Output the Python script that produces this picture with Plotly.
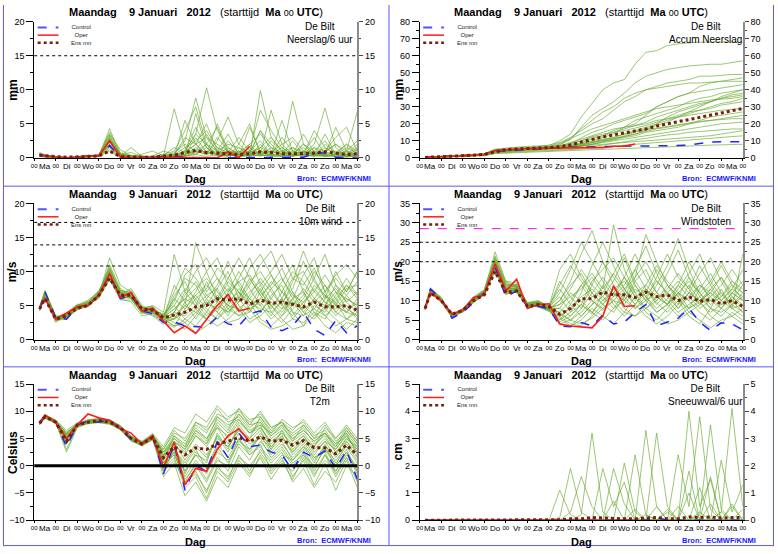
import plotly.graph_objects as go

# ---------------- time axis ----------------
HOURS = [6, 12, 24, 36, 48, 60, 72, 84, 96, 108, 120, 132, 144, 156, 168, 180,
         192, 204, 216, 228, 240, 252, 264, 276, 288, 300, 312, 324, 336, 348, 360]
OPER_HOURS = [6, 12, 24, 36, 48, 60, 72, 84, 96, 108, 120, 132, 144, 156, 168, 180,
              192, 204, 216, 228, 240]
MIDNIGHT_HOURS = [0, 24, 48, 72, 96, 120, 144, 168, 192, 216, 240, 264, 288, 312, 336, 360]
MIDNIGHT_LABELS = ["00", "00", "00", "00", "00", "00", "00", "00", "00", "00", "00", "00",
                   "00", "00", "00", "00"]
NOON_HOURS = [12, 36, 60, 84, 108, 132, 156, 180, 204, 228, 252, 276, 300, 324, 348]
DAY_NAMES = ["Ma", "Di", "Wo", "Do", "Vr", "Za", "Zo", "Ma", "Di", "Wo", "Do", "Vr", "Za", "Zo", "Ma"]

# ---------------- precipitation per 6 h (mm) ----------------
PRECIP_CONTROL = [0.5,0.3,0.1,0.0,0.1,0.2,0.3,1.8,0.1,0.0,0.1,0.2,0.1,0.2,0.1,0.0,0.0,0.0,0.0,0.0,
                  0.0,0.0,0.0,0.0,0.0,0.1,0.7,0.7,0.1,0.0,0.0]
PRECIP_OPER = [0.5,0.3,0.1,0.0,0.1,0.3,0.3,2.5,0.2,0.0,0.1,0.1,0.1,0.1,0.0,0.0,0.0,0.0,0.9,0.0,1.7]
PRECIP_MEAN = [0.4,0.3,0.2,0.1,0.1,0.2,0.3,1.0,0.2,0.1,0.1,0.1,0.2,0.4,0.8,1.1,0.8,0.7,0.6,0.5,
               0.6,0.9,0.8,0.6,0.6,0.6,0.7,0.9,0.7,0.5,0.6]
PRECIP_MEMBERS = [
    [0.8,0.4,0.2,0.0,0.2,0.4,0.3,4.3,0.5,0.2,0.0,0.1,0.3,7.2,1.5,0.5,2.0,0.3,0.0,1.0,0.2,9.9,3.0,1.0,0.5,2.0,0.5,1.0,0.2,0.5,1.2],
    [0.3,0.2,0.1,0.0,0.1,0.2,0.4,3.5,1.2,0.3,0.1,0.0,0.2,0.5,2.5,8.8,3.0,1.0,0.5,0.2,4.5,1.0,0.3,0.2,1.5,0.5,0.2,2.0,0.8,0.3,0.5],
    [0.5,0.3,0.2,0.1,0.0,0.3,0.5,2.5,0.3,1.5,0.2,0.1,0.0,0.2,1.0,3.5,10.3,4.0,1.5,0.5,1.0,2.5,0.5,0.3,0.2,0.8,3.0,0.5,0.2,0.1,0.3],
    [0.2,0.1,0.0,0.0,0.1,0.2,0.3,2.0,0.2,0.1,0.5,1.0,0.3,0.2,5.5,2.0,0.5,1.0,3.5,0.5,0.2,0.5,7.0,2.0,0.5,0.3,1.5,0.2,0.5,1.0,0.4],
    [0.6,0.4,0.1,0.0,0.2,0.3,0.2,3.0,0.4,0.2,0.0,0.3,1.0,0.5,0.3,6.5,1.5,0.5,0.2,2.0,5.0,0.5,1.0,0.5,8.3,2.0,0.5,0.3,0.2,0.5,0.3],
    [0.4,0.2,0.1,0.0,0.1,0.3,0.3,1.5,0.1,0.0,0.1,0.0,0.1,0.3,0.8,2.0,0.5,5.0,1.0,0.3,0.5,1.0,0.5,5.5,1.0,0.5,2.0,7.3,1.5,0.3,0.8],
    [0.3,0.3,0.2,0.1,0.0,0.2,0.4,2.8,0.6,0.3,0.2,0.0,0.0,0.1,0.5,1.0,3.5,0.8,0.3,1.5,0.5,4.0,2.0,0.5,0.3,1.0,0.5,0.5,4.5,1.0,6.8],
    [0.5,0.2,0.0,0.0,0.1,0.2,0.2,1.8,0.2,0.1,0.0,0.2,0.5,1.0,4.0,7.5,2.0,0.3,0.5,0.2,0.3,2.0,0.5,0.2,0.5,3.5,0.8,0.3,0.5,0.2,0.5],
    [0.4,0.3,0.1,0.0,0.0,0.2,0.3,2.2,0.3,0.4,0.1,0.0,0.3,0.2,0.5,1.5,0.5,2.5,6.0,2.0,0.5,0.3,0.5,1.5,0.5,0.3,0.5,1.0,3.0,4.5,1.0],
    [0.7,0.4,0.2,0.0,0.1,0.3,0.4,3.8,0.8,0.2,0.1,0.1,0.0,0.0,0.2,0.5,1.5,0.5,0.3,0.5,1.0,7.0,4.0,1.5,0.5,1.0,0.3,0.2,0.5,2.0,0.5],
    [0.3,0.2,0.1,0.0,0.1,0.2,0.3,1.2,0.1,0.0,0.0,0.0,0.1,0.3,1.0,4.5,1.5,0.5,1.0,0.5,2.0,0.3,0.5,3.0,1.0,0.5,4.0,1.5,0.5,0.2,0.3],
    [0.5,0.3,0.1,0.0,0.2,0.3,0.2,2.6,0.5,0.2,0.3,0.2,0.5,0.3,0.2,1.0,2.0,4.5,0.5,0.2,0.5,0.3,1.5,0.5,0.3,0.5,0.3,0.5,1.0,0.5,2.0],
    [0.2,0.1,0.0,0.0,0.0,0.1,0.2,1.0,0.0,0.0,0.0,0.0,0.0,0.1,0.3,0.5,0.2,0.5,1.5,0.5,0.3,0.5,0.2,0.3,0.5,0.2,0.3,0.5,0.2,0.3,0.2],
    [0.6,0.3,0.2,0.0,0.1,0.2,0.3,3.2,0.4,0.3,0.1,0.0,0.2,0.5,3.0,2.0,5.0,1.0,0.5,0.3,0.8,4.0,1.0,0.5,2.5,0.5,0.3,3.5,0.5,1.0,0.5],
    [0.4,0.2,0.1,0.0,0.1,0.3,0.4,2.0,0.2,0.1,0.0,0.1,0.2,0.3,0.5,3.0,0.8,0.3,2.5,0.8,0.3,1.0,0.3,0.5,0.8,1.5,0.5,0.3,0.5,0.3,0.5],
    [0.4,0.2,0.1,0.0,0.1,0.2,0.3,2.4,0.3,0.2,0.1,0.0,0.2,0.8,2.0,1.0,0.5,3.0,1.0,0.5,1.5,0.5,2.5,1.0,0.3,0.5,1.0,2.5,0.5,1.5,0.8],
    [0.5,0.3,0.1,0.0,0.1,0.3,0.3,1.6,0.2,0.1,0.0,0.1,0.3,0.5,1.5,2.5,4.0,1.5,0.5,1.0,0.5,1.5,0.8,2.0,3.0,1.0,0.5,0.8,2.0,0.5,1.5],
    [0.3,0.2,0.1,0.0,0.0,0.2,0.2,2.9,0.4,0.2,0.1,0.0,0.1,0.2,0.5,1.0,0.5,1.5,0.8,3.0,1.0,0.5,0.3,1.0,0.5,2.0,1.0,0.5,0.3,0.5,0.3],
    [0.6,0.3,0.2,0.0,0.1,0.3,0.4,3.4,0.6,0.3,0.2,0.1,0.4,1.5,0.8,2.0,3.0,2.0,1.0,0.8,2.0,3.5,1.5,0.8,1.0,0.5,1.5,1.0,2.0,1.0,2.5],
    [0.3,0.2,0.0,0.0,0.1,0.2,0.3,1.9,0.1,0.0,0.0,0.0,0.1,0.2,0.3,0.8,1.0,0.5,0.3,0.5,0.8,0.5,1.0,0.5,0.3,0.5,0.8,0.3,0.5,0.8,0.5],
    [0.4,0.3,0.1,0.0,0.1,0.2,0.3,2.7,0.5,0.8,0.2,0.1,0.2,0.4,1.0,3.5,2.0,1.0,2.0,1.5,0.8,1.5,3.0,1.0,1.5,0.8,0.5,1.5,0.8,2.0,1.0],
]

# ---------------- accumulated precipitation (mm) ----------------
ACCUM_CONTROL = [0.3,0.5,0.8,1.0,1.2,1.6,2.0,3.8,4.2,4.8,5.0,5.3,5.8,6.0,6.2,6.4,6.6,6.7,6.8,6.9,
                 7.0,7.0,7.0,7.0,7.1,7.4,8.5,9.3,9.5,9.5,9.5]
ACCUM_OPER = [0.3,0.5,0.8,1.0,1.2,1.6,2.0,4.3,4.8,5.2,5.4,5.6,5.8,6.0,6.0,6.0,6.0,6.0,6.8,6.8,8.2]
ACCUM_MEAN = [0.3,0.5,0.8,1.0,1.3,1.6,2.1,3.5,4.9,5.2,5.4,5.7,6.0,6.6,7.6,9.3,11.0,12.3,13.5,14.7,
              15.6,17.0,18.7,20.2,21.3,22.5,23.8,25.3,26.6,27.8,29.0]
ACCUM_MEMBERS = [
    [0.4,0.6,0.9,1.2,1.5,1.9,2.3,4.8,5.5,5.9,6.2,6.6,7.2,10.0,14.0,24.0,32.0,40.0,44.0,46.0,55.0,62.0,63.0,66.0,67.0,67.5,68.0,68.0,68.0,68.0,68.0],
    [0.3,0.5,0.8,1.1,1.4,1.8,2.2,4.5,5.0,5.4,5.8,6.0,6.5,8.0,11.0,18.0,25.0,29.0,33.0,38.0,44.0,48.0,50.0,52.0,53.0,54.0,54.5,55.0,55.0,56.0,57.0],
    [0.3,0.6,0.9,1.2,1.6,2.0,2.5,5.2,5.8,6.3,6.8,7.0,7.5,9.0,12.0,16.0,20.0,23.0,28.0,33.0,36.0,40.0,42.0,44.0,45.0,46.0,48.0,48.0,48.5,49.0,49.0],
    [0.2,0.4,0.7,0.9,1.1,1.5,1.9,3.5,4.2,4.6,5.0,5.3,5.6,6.0,7.0,9.0,11.0,13.0,16.0,18.0,20.0,25.0,30.0,33.0,36.0,38.0,42.0,44.0,45.0,46.0,47.0],
    [0.4,0.6,0.9,1.1,1.4,1.7,2.1,4.0,4.6,5.3,5.6,5.8,6.2,6.8,8.5,12.0,15.0,17.0,20.0,22.0,24.0,26.0,30.0,33.0,36.0,38.0,39.0,40.0,41.0,42.0,43.0],
    [0.3,0.5,0.7,1.0,1.3,1.6,2.0,3.8,4.3,4.8,5.1,5.4,5.7,6.0,6.5,8.0,10.0,12.0,14.0,18.0,22.0,24.0,26.0,28.0,30.0,33.0,35.0,36.0,38.0,39.0,40.0],
    [0.3,0.5,0.8,1.0,1.2,1.6,2.0,4.0,4.5,5.0,5.4,5.7,6.0,6.5,8.0,10.0,12.0,13.0,15.0,17.0,19.0,21.0,24.0,26.0,28.0,30.0,32.0,33.0,35.0,36.0,37.0],
    [0.2,0.4,0.6,0.8,1.1,1.4,1.8,3.5,4.0,4.4,4.8,5.0,5.2,5.5,6.0,7.5,9.0,11.0,12.0,14.0,16.0,18.0,20.0,22.0,24.0,26.0,28.0,29.0,31.0,32.0,33.0],
    [0.3,0.5,0.8,1.0,1.3,1.7,2.1,4.2,4.7,5.1,5.5,5.8,6.0,7.0,9.0,11.0,13.0,15.0,17.0,18.0,19.0,20.0,22.0,23.0,24.0,25.0,26.0,27.0,28.0,28.5,29.0],
    [0.2,0.4,0.6,0.8,1.0,1.3,1.7,3.2,3.6,4.0,4.4,4.6,4.8,5.2,6.0,7.0,8.0,9.5,10.5,12.0,13.0,15.0,16.0,17.0,18.0,20.0,21.0,22.0,23.0,24.0,25.0],
    [0.3,0.5,0.7,0.9,1.2,1.5,1.9,3.9,4.4,4.8,5.2,5.5,5.7,6.0,6.5,7.0,8.0,9.0,10.0,11.0,12.0,13.0,14.0,15.0,16.0,17.0,18.0,19.0,20.0,20.5,21.0],
    [0.2,0.4,0.6,0.8,1.0,1.3,1.6,3.0,3.5,3.9,4.2,4.4,4.6,4.8,5.2,5.8,6.5,7.5,8.5,9.5,10.5,11.5,12.5,13.5,14.0,15.0,15.5,16.0,16.5,17.0,17.0],
    [0.2,0.3,0.5,0.7,0.9,1.2,1.5,2.8,3.2,3.5,3.8,4.0,4.2,4.4,4.8,5.2,5.8,6.5,7.0,7.5,8.0,8.5,9.0,9.5,10.0,10.5,11.0,11.5,12.0,12.5,13.0],
    [0.1,0.3,0.5,0.6,0.8,1.0,1.3,2.5,2.8,3.1,3.4,3.6,3.8,4.0,4.2,4.5,4.8,5.0,5.2,5.5,5.8,6.0,6.2,6.5,6.8,7.0,7.2,7.5,7.8,8.0,8.0],
    [0.3,0.5,0.8,1.1,1.4,1.8,2.2,4.5,5.0,5.5,5.8,6.1,6.4,6.8,7.5,8.5,9.5,10.5,11.5,12.5,14.0,16.0,20.0,24.0,27.0,29.0,31.0,33.0,35.0,37.0,38.0],
    [0.3,0.5,0.8,1.0,1.3,1.7,2.1,4.3,4.8,5.2,5.6,5.9,6.3,7.5,11.0,17.0,22.0,27.0,30.0,35.0,38.0,40.0,41.0,42.0,43.0,44.0,44.0,44.5,45.0,45.0,45.0],
    [0.3,0.5,0.8,1.0,1.3,1.6,2.0,4.0,4.6,5.0,5.3,5.6,6.0,7.0,8.5,10.0,12.5,14.0,15.0,16.0,17.5,19.0,21.0,23.0,25.0,27.0,28.0,30.0,32.0,33.0,35.0],
    [0.2,0.4,0.7,0.9,1.2,1.5,1.9,3.8,4.3,4.7,5.0,5.3,5.6,6.0,6.8,7.5,9.0,10.0,11.0,12.5,14.0,15.5,17.0,18.0,19.0,20.0,22.0,24.0,25.0,26.0,27.0],
    [0.3,0.5,0.8,1.1,1.4,1.7,2.1,4.4,4.9,5.3,5.6,5.9,6.2,6.6,7.2,8.0,9.0,10.5,12.0,14.0,15.5,16.5,17.5,18.5,19.5,20.5,21.5,22.0,22.5,23.0,23.0],
    [0.2,0.4,0.6,0.9,1.1,1.4,1.8,3.6,4.1,4.5,4.9,5.1,5.4,5.7,6.2,7.0,8.0,9.5,11.0,13.0,15.0,17.0,19.0,21.0,24.0,27.0,30.0,33.0,36.0,38.0,40.0],
    [0.3,0.5,0.7,1.0,1.3,1.6,2.0,4.1,4.6,5.0,5.3,5.6,5.9,6.2,6.6,7.0,7.5,8.0,8.5,9.0,9.5,10.0,10.5,11.0,11.5,12.0,12.5,13.0,14.0,15.0,16.0],
    [0.3,0.6,0.9,1.2,1.5,1.9,2.3,4.6,5.2,5.6,6.0,6.3,6.8,8.5,11.5,14.0,17.0,19.0,21.0,23.0,25.0,27.0,29.0,30.0,31.0,32.0,33.0,34.0,34.5,35.0,36.0],
]

# ---------------- 10 m wind (m/s) ----------------
WIND_CONTROL = [4.5,7.0,3.2,3.0,4.8,5.0,6.5,9.5,6.0,6.5,4.2,3.8,2.5,2.6,2.0,1.9,1.8,3.3,2.3,2.0,
                3.8,4.2,1.8,1.3,2.0,4.0,1.5,0.6,2.8,1.0,2.0]
WIND_OPER = [4.5,6.1,3.0,3.9,4.8,5.0,6.5,9.7,6.2,6.9,4.2,4.6,2.7,1.0,2.0,0.9,3.0,5.0,6.6,4.2,4.6]
WIND_MEAN = [4.5,6.0,3.0,3.5,4.6,5.0,6.5,9.0,6.5,6.5,4.5,4.3,3.2,3.6,4.0,4.8,5.0,6.0,5.8,6.0,
             5.2,5.8,5.3,5.5,5.2,4.8,5.5,4.8,4.8,5.0,4.3]
WIND_MEMBERS = [
    [4.3,6.5,2.8,3.5,5.0,5.5,7.0,10.5,7.0,6.0,4.0,4.5,3.5,6.0,9.0,8.0,5.0,7.5,10.0,6.0,4.0,7.0,9.5,6.0,3.0,5.0,8.0,6.5,4.0,6.0,5.0],
    [4.8,7.2,3.5,3.2,4.5,5.2,6.0,9.0,6.5,7.5,5.0,4.0,3.0,2.0,4.5,7.0,10.0,12.0,8.0,5.0,3.0,4.0,6.0,8.5,11.0,7.0,4.0,3.0,5.5,8.0,6.0],
    [4.5,6.0,2.5,3.8,5.2,4.8,6.8,11.0,7.5,6.5,4.5,5.0,4.0,12.5,7.0,5.0,3.0,4.5,6.0,9.0,12.0,8.0,5.0,3.5,6.0,9.5,12.0,7.0,4.0,3.0,2.5],
    [4.2,6.8,3.0,3.2,4.8,5.5,7.2,9.8,6.0,5.5,3.5,3.8,2.5,3.0,5.0,14.2,10.0,6.0,4.0,5.5,8.0,11.0,13.0,9.0,6.0,4.0,3.0,5.0,7.0,4.5,3.5],
    [4.6,7.0,3.3,3.5,4.4,5.0,6.5,12.0,8.0,7.0,4.8,4.2,3.8,5.0,3.0,2.0,4.0,6.5,5.0,3.5,5.0,7.5,4.0,2.5,4.5,6.0,9.0,12.5,8.0,5.5,4.0],
    [4.4,6.2,2.8,3.0,4.6,5.2,6.2,9.2,6.8,6.2,4.0,3.5,2.2,4.0,6.5,8.5,6.0,4.0,7.0,10.0,7.5,5.0,3.0,4.5,7.0,5.0,3.5,6.0,10.0,7.0,10.0],
    [4.7,6.6,3.1,3.7,5.0,5.8,7.0,10.0,7.2,6.8,4.5,4.8,3.3,2.5,1.5,3.5,6.0,8.0,11.5,8.0,5.5,3.0,2.0,3.5,5.0,7.5,5.5,3.5,2.0,3.0,4.5],
    [4.5,6.4,2.9,3.4,4.7,5.0,6.8,10.8,7.0,6.3,4.2,4.4,3.0,6.5,8.5,5.5,3.5,5.0,4.0,6.0,9.0,6.5,8.0,10.5,7.0,4.0,6.0,8.0,5.0,7.5,8.0],
    [4.3,6.9,3.4,3.3,4.9,5.4,6.6,9.5,6.3,7.0,4.6,4.0,2.8,3.5,2.5,1.0,2.0,3.5,5.5,7.0,4.5,2.5,1.5,2.0,3.0,2.5,4.0,2.0,1.0,2.5,2.0],
    [4.6,6.3,3.2,3.6,4.5,5.1,6.4,9.6,6.6,6.0,3.8,4.6,3.6,5.5,9.5,11.0,7.0,9.0,6.0,4.0,6.5,9.0,7.0,5.0,8.5,13.0,9.0,6.0,7.5,5.5,7.0],
    [4.5,6.7,3.0,3.1,4.4,4.9,6.3,8.8,5.8,5.8,4.0,3.6,2.6,1.8,3.0,4.5,3.0,2.0,3.0,4.5,2.5,3.5,5.0,3.0,1.5,2.0,3.5,4.5,3.0,1.5,3.0],
    [4.4,6.5,3.3,3.9,5.1,5.6,7.1,10.2,6.9,7.2,4.7,4.9,3.2,4.5,6.0,5.0,8.5,5.5,3.5,6.5,10.5,12.5,9.5,7.0,5.0,6.5,10.0,8.0,6.0,4.0,5.5],
    [4.6,7.1,2.7,3.3,4.8,5.3,6.6,9.3,6.4,6.6,4.4,4.1,3.4,3.0,5.5,6.5,4.5,3.0,5.0,7.5,6.0,4.0,6.5,8.0,4.0,2.0,5.0,4.0,6.5,9.0,6.5],
    [4.5,6.0,3.1,3.6,4.6,5.0,6.9,9.9,7.3,6.4,4.3,4.7,3.1,8.0,5.5,3.0,5.5,4.0,2.5,3.0,4.5,5.5,3.5,6.0,9.0,10.0,7.0,5.5,3.5,5.0,3.0],
    [4.4,6.6,3.2,3.4,4.7,5.2,6.5,9.4,6.1,6.7,4.1,4.3,2.9,4.0,7.0,10.0,12.0,9.0,7.0,8.5,6.0,8.0,10.0,12.5,9.0,8.0,10.5,7.0,9.0,7.0,10.0],
    [4.5,6.8,3.1,3.5,4.9,5.3,6.7,9.7,6.5,6.4,4.3,4.4,3.3,4.5,6.0,7.5,9.0,7.0,5.0,4.5,6.0,5.0,7.5,9.0,6.5,5.5,7.0,9.5,7.0,6.0,5.0],
    [4.4,6.4,3.0,3.3,4.6,5.1,6.4,9.1,6.2,6.1,4.1,4.2,3.0,2.0,2.5,4.0,5.5,4.5,6.5,8.5,9.5,7.0,5.0,6.0,4.0,3.5,6.0,5.0,8.0,6.5,8.5],
    [4.6,7.0,3.3,3.7,4.8,5.4,6.9,10.4,7.1,6.9,4.6,4.5,3.5,7.0,10.5,9.0,6.5,5.5,8.5,7.0,5.0,6.0,8.5,7.0,10.0,8.5,6.0,4.5,6.0,8.0,6.5],
    [4.3,6.3,2.9,3.2,4.5,4.9,6.3,9.0,6.0,6.3,4.0,3.9,2.7,3.0,4.0,6.0,4.0,3.0,4.5,6.0,8.5,10.0,7.5,5.0,3.5,5.5,7.5,5.5,4.5,6.5,4.5],
    [4.7,6.9,3.2,3.6,5.0,5.3,6.7,10.1,6.7,6.6,4.4,4.6,3.4,5.0,7.5,6.0,7.5,10.5,9.0,7.0,5.5,4.5,4.0,5.5,7.5,11.5,8.5,6.5,5.0,4.0,6.0],
    [4.5,6.6,3.1,3.5,4.7,5.2,6.6,9.6,6.4,6.5,4.3,4.3,3.1,4.0,3.5,5.0,6.5,7.5,4.5,3.5,4.0,6.0,5.5,4.0,6.0,7.0,4.5,3.5,5.0,4.0,3.5],
    [4.4,6.5,3.0,3.4,4.6,5.0,6.5,9.4,6.3,6.2,4.2,4.1,2.9,3.5,5.0,4.0,3.0,5.5,7.5,5.5,7.0,8.5,6.0,4.5,5.5,4.5,5.5,7.0,9.5,11.0,9.0],
    [4.6,6.7,3.2,3.6,4.8,5.2,6.8,10.0,6.8,6.7,4.5,4.5,3.3,6.0,4.5,6.5,8.0,6.0,9.0,12.0,9.0,6.5,4.5,7.0,5.5,3.5,4.5,6.5,5.5,3.0,4.0],
]

# ---------------- wind gusts (m/s) ----------------
GUST_CONTROL = [8.0,13.0,10.5,5.5,7.0,9.5,12.0,18.5,11.0,12.5,8.5,8.5,8.0,3.5,3.3,4.4,3.5,6.3,4.0,4.5,
                7.0,9.0,3.5,4.5,5.5,8.0,4.5,2.3,4.3,4.0,2.5]
GUST_OPER = [8.0,12.0,10.0,6.5,7.5,10.8,11.5,19.5,12.5,15.5,8.0,9.0,9.2,4.0,3.5,3.2,3.0,6.0,13.8,8.5,8.7]
GUST_MEAN = [8.0,12.0,10.0,6.5,7.5,10.0,11.5,17.5,12.0,12.5,8.5,9.0,8.5,6.5,8.0,10.5,10.5,12.2,11.5,11.5,
             10.8,12.2,11.0,11.5,10.0,11.0,9.8,10.3,9.2,10.0,8.5]
GUST_MEMBERS = [
    [7.8,12.5,9.5,6.0,7.8,10.5,12.5,20.0,13.0,14.0,9.0,9.5,8.0,10.0,15.0,22.0,28.0,20.0,14.0,10.0,15.0,18.0,12.0,9.0,14.0,20.0,15.0,10.0,8.0,12.0,10.0],
    [8.2,13.2,10.8,5.8,7.2,9.8,11.8,18.5,12.2,13.0,8.2,8.8,7.5,5.0,9.0,14.0,17.0,13.0,29.5,18.0,12.0,8.0,10.0,14.0,11.0,7.0,9.0,13.0,16.0,11.0,9.0],
    [7.5,11.8,10.2,6.2,8.0,11.0,12.8,21.0,14.5,13.5,9.5,10.0,8.5,18.0,22.0,16.0,12.0,9.0,7.0,11.0,16.0,27.0,20.0,14.0,10.0,8.0,13.0,17.0,12.0,8.0,22.0],
    [8.0,12.8,9.8,5.5,7.5,10.2,12.2,19.5,13.5,12.0,8.8,9.2,7.8,4.0,5.0,8.0,12.0,16.0,12.0,8.0,6.0,9.0,14.0,19.0,26.0,18.0,12.0,8.0,6.0,9.0,7.0],
    [8.3,12.2,10.0,6.8,7.0,9.5,11.5,17.5,11.5,12.8,8.5,8.5,7.2,6.0,4.0,3.5,6.0,9.0,13.0,15.0,11.0,7.0,5.0,8.0,12.0,10.0,7.0,5.0,8.0,11.0,8.0],
    [7.9,12.6,10.4,6.4,7.6,10.6,12.6,22.5,15.0,14.5,9.2,9.8,8.2,12.0,18.0,25.0,20.0,15.0,11.0,16.0,22.0,16.0,12.0,17.0,23.0,16.0,11.0,14.0,19.0,14.0,12.0],
    [8.1,13.0,10.6,6.0,7.3,9.9,11.9,18.8,12.8,13.2,8.6,8.9,7.9,8.0,12.0,10.0,7.0,5.0,8.0,12.0,9.0,6.0,4.0,6.0,9.0,14.0,10.0,6.0,4.0,7.0,5.0],
    [7.7,12.3,9.9,6.6,7.9,10.4,12.4,19.2,13.2,13.8,9.0,9.4,8.4,15.0,11.0,8.0,14.0,20.0,16.0,12.0,18.0,24.0,17.0,11.0,8.0,12.0,17.0,21.0,15.0,10.0,14.0],
    [8.0,12.4,10.1,6.1,7.4,10.1,12.1,18.2,12.0,12.5,8.4,8.7,7.6,5.5,3.5,5.0,8.0,6.0,4.0,7.0,11.0,8.0,6.0,4.0,5.0,7.0,5.0,3.0,5.0,6.0,4.0],
    [8.2,12.9,10.3,6.3,7.7,10.3,12.3,20.5,14.0,13.6,9.1,9.6,8.1,9.0,13.0,18.0,14.0,11.0,15.0,21.0,14.0,10.0,16.0,22.0,16.0,13.0,19.0,14.0,10.0,13.0,18.0],
    [7.9,12.7,10.0,5.9,7.1,9.7,11.7,17.8,11.8,12.2,8.3,8.6,7.7,7.0,10.0,14.0,10.0,7.5,10.0,9.0,13.0,11.0,8.0,10.5,14.0,11.0,8.0,10.0,12.0,9.0,11.0],
    [8.1,12.1,10.2,6.5,7.6,10.0,12.0,19.8,13.6,14.2,9.3,9.7,8.3,11.0,7.0,12.0,19.0,25.0,19.0,13.0,9.0,12.0,18.0,14.0,11.0,16.0,12.0,15.0,20.0,15.0,12.0],
    [7.8,12.5,9.7,6.2,7.8,10.7,12.7,21.5,14.8,13.9,9.4,9.9,8.6,13.0,9.0,6.0,9.0,14.0,9.0,6.0,9.0,13.0,9.5,7.0,10.0,6.0,4.0,8.0,13.0,8.0,6.0],
    [8.0,13.1,10.7,5.7,7.2,9.6,11.6,18.3,12.4,12.9,8.7,8.4,7.4,4.5,6.0,9.0,6.5,12.0,17.0,22.0,15.0,11.0,7.0,9.0,13.0,17.0,22.0,15.0,11.0,15.0,13.0],
    [8.2,12.0,9.6,6.7,7.4,10.2,12.2,19.0,13.0,13.4,8.9,9.3,8.0,7.0,5.0,7.0,10.0,8.0,11.0,14.0,18.0,13.0,9.0,12.0,8.0,11.0,14.0,11.0,8.0,6.0,8.0],
    [8.0,12.6,10.2,6.3,7.5,10.1,12.1,19.0,12.8,13.1,8.8,9.1,8.0,6.0,8.0,11.0,13.0,10.0,12.0,16.0,12.0,14.0,11.0,9.0,12.0,15.0,12.0,9.0,11.0,14.0,10.0],
    [7.9,12.3,10.0,6.1,7.3,9.9,11.9,18.6,12.5,12.7,8.5,8.8,7.7,10.0,14.0,17.0,12.0,9.0,12.0,10.0,8.0,11.0,15.0,12.0,9.0,12.0,10.0,13.0,10.0,8.0,9.0],
    [8.1,12.9,10.4,6.4,7.6,10.4,12.4,20.2,13.8,13.7,9.0,9.4,8.2,8.0,6.0,9.0,15.0,18.0,21.0,16.0,11.0,13.0,10.0,13.0,17.0,13.0,9.0,11.0,14.0,18.0,14.0],
    [7.8,12.2,9.8,6.0,7.2,9.8,11.8,18.4,12.3,12.6,8.4,8.6,7.6,4.0,3.5,6.0,9.0,11.0,8.0,10.0,14.0,10.0,7.0,9.0,12.0,8.0,10.0,12.0,9.0,10.0,7.0],
    [8.2,12.8,10.5,6.6,7.7,10.5,12.5,21.0,14.2,14.0,9.2,9.6,8.4,14.0,19.0,15.0,11.0,13.0,17.0,13.0,10.0,14.0,19.0,15.0,12.0,10.0,14.0,12.0,16.0,12.0,15.0],
    [8.0,12.5,10.1,6.2,7.4,10.0,12.0,18.8,12.6,12.9,8.6,9.0,7.9,5.0,7.0,9.0,7.0,10.0,13.0,11.0,8.0,10.0,12.0,10.0,7.0,9.0,11.0,8.0,7.0,9.0,12.0],
    [7.9,12.4,10.3,6.3,7.5,10.2,12.2,19.5,13.0,13.3,8.9,9.2,8.1,9.0,11.0,13.0,16.0,12.0,10.0,13.0,16.0,20.0,15.0,12.0,15.0,12.0,10.0,12.0,10.0,13.0,11.0],
    [8.1,12.7,10.2,6.2,7.6,10.3,12.3,19.3,13.1,13.2,8.7,9.1,8.0,6.5,5.0,4.0,5.5,8.0,10.0,7.0,6.0,8.0,11.0,9.0,6.0,8.0,9.5,7.0,9.0,12.0,10.0],
]

# ---------------- 2 m temperature (Celsius) ----------------
T2M_CONTROL = [7.8,9.0,8.0,3.5,7.5,8.2,8.0,8.5,6.5,5.0,4.0,5.5,-1.5,4.0,-4.5,0.0,-1.0,4.5,1.5,6.0,
               3.5,3.8,2.5,2.0,-0.8,2.5,1.5,2.7,-0.5,2.8,-2.5]
T2M_OPER = [7.9,9.3,8.0,5.0,7.5,9.5,8.8,8.3,6.8,6.0,4.0,5.5,-0.3,4.3,-3.5,-0.5,-1.0,3.0,5.5,6.8,4.5]
T2M_MEAN = [7.8,9.0,8.0,4.5,7.5,8.0,8.3,8.0,7.0,5.0,4.0,5.2,1.5,3.5,2.0,3.3,3.0,4.0,4.5,5.2,
            4.5,5.3,4.5,4.7,3.8,4.6,3.3,3.3,2.2,3.8,2.0]
T2M_MEMBERS = [
    [7.6,9.2,8.3,4.5,7.2,8.5,8.5,8.2,7.2,5.5,4.2,5.8,2.0,5.0,3.0,6.0,4.0,8.0,6.0,9.5,7.0,8.5,5.5,7.0,5.0,6.5,4.5,6.0,3.0,5.5,2.5],
    [7.9,8.8,7.7,5.8,7.8,7.8,8.0,7.7,6.8,4.6,3.8,4.8,0.5,2.0,-2.0,1.0,-1.5,2.5,1.0,4.0,2.0,3.5,1.0,3.0,0.0,2.5,-1.0,2.0,-2.0,1.5,-3.0],
    [8.1,9.1,8.1,6.2,7.6,8.3,8.6,8.4,7.4,5.2,4.4,5.6,3.0,6.0,5.0,8.0,7.0,10.5,8.0,9.0,6.5,7.5,6.0,8.5,7.0,8.0,5.5,6.5,4.0,7.0,4.5],
    [7.7,8.9,7.9,2.5,7.0,7.9,8.1,7.9,6.6,4.8,3.6,5.0,-1.0,3.0,-3.5,-1.0,-5.0,0.0,-2.5,2.0,-1.0,3.0,0.5,2.5,-2.0,1.0,-3.5,0.5,-4.5,0.0,-2.0],
    [7.8,9.3,8.2,5.0,7.4,8.1,8.4,8.1,7.1,5.3,4.1,5.3,2.5,4.5,1.0,4.0,2.0,5.0,3.5,6.5,5.0,7.0,4.0,6.0,3.5,5.5,2.5,4.5,1.5,4.0,1.0],
    [8.0,9.0,8.0,6.0,7.7,8.0,8.2,8.3,6.9,5.0,4.3,5.4,1.0,3.5,-1.5,2.5,0.5,6.0,3.0,7.5,5.0,9.0,6.5,8.0,5.5,7.0,4.0,5.5,2.5,5.0,3.0],
    [7.5,8.7,7.8,4.0,7.1,7.7,7.9,7.6,6.7,4.5,3.7,4.7,-0.5,1.5,-4.0,-2.0,-6.0,-1.0,-3.0,1.0,-1.5,1.5,-2.5,0.5,-1.0,2.0,0.0,3.0,1.0,3.5,0.5],
    [8.2,9.4,8.4,6.5,7.9,8.4,8.7,8.5,7.3,5.4,4.5,5.9,3.5,7.0,6.0,9.5,8.0,11.0,9.0,10.0,8.0,9.5,7.0,8.0,5.0,6.5,4.5,6.0,3.5,6.5,4.0],
    [7.7,8.8,7.9,3.0,7.3,7.9,8.0,7.8,6.6,4.7,3.9,4.9,0.0,2.5,-3.0,0.5,-2.5,1.5,-1.0,3.5,1.0,4.5,2.0,4.0,1.5,3.5,0.5,4.0,0.5,3.0,-1.0],
    [7.9,9.1,8.1,5.5,7.5,8.1,8.3,8.0,7.0,5.1,4.0,5.1,1.5,4.0,2.0,5.5,3.5,7.0,5.5,8.5,6.0,7.5,3.5,5.5,2.0,4.0,1.0,3.5,2.0,5.0,3.5],
    [8.0,9.2,8.2,5.2,7.6,8.2,8.5,8.2,7.1,5.2,4.2,5.5,2.0,3.0,0.0,3.0,-0.5,4.0,1.5,5.0,2.0,4.0,-1.0,1.5,-3.0,-0.5,-4.0,-1.0,-3.0,1.0,-4.0],
    [7.6,9.0,8.0,4.8,7.3,8.0,8.1,8.1,6.8,4.9,3.9,5.2,1.0,5.5,4.0,7.0,5.0,8.5,6.5,10.5,8.5,9.0,6.0,7.5,4.5,6.0,3.5,7.0,5.0,7.5,5.0],
    [7.8,8.9,7.8,5.7,7.4,7.8,8.2,7.9,6.9,4.8,3.8,5.0,-2.0,0.5,-5.5,-3.0,-6.5,-2.0,-4.0,0.5,-2.0,2.0,-1.5,1.0,-2.5,1.5,-2.0,2.0,-1.0,2.5,-1.5],
    [8.1,9.3,8.3,6.0,7.7,8.3,8.6,8.4,7.2,5.3,4.3,5.7,2.5,5.0,3.5,6.5,4.5,9.0,7.5,8.5,6.0,8.0,5.0,6.5,3.0,5.0,2.0,4.5,3.0,6.0,2.0],
    [7.7,9.1,8.1,4.2,7.5,8.1,8.4,8.0,7.0,5.0,4.1,5.3,0.5,3.5,-1.0,2.0,1.0,5.5,2.5,6.0,3.0,5.5,2.5,4.5,1.0,3.0,-0.5,3.5,0.0,4.5,1.5],
    [7.8,9.1,8.1,5.3,7.5,8.1,8.3,8.1,7.0,5.1,4.1,5.4,2.0,4.5,2.5,5.5,4.0,7.5,5.0,8.0,6.0,7.0,4.5,6.0,4.0,5.5,3.0,5.0,2.5,4.5,2.5],
    [7.9,9.0,8.0,4.9,7.4,8.0,8.2,8.0,6.9,5.0,4.0,5.2,0.0,2.0,-2.5,0.0,-3.0,1.0,0.0,4.5,3.0,6.0,3.5,5.5,2.5,4.5,1.5,3.0,0.0,2.5,-1.0],
    [7.7,9.2,8.2,5.6,7.6,8.2,8.4,8.2,7.1,5.2,4.2,5.5,3.0,6.5,4.5,7.5,6.0,9.5,8.5,10.5,7.5,8.0,5.5,7.5,6.0,7.5,5.0,7.5,4.5,6.0,3.5],
    [8.0,9.1,8.0,4.0,7.3,7.9,8.1,7.9,6.8,4.9,3.9,5.0,-1.0,1.0,-3.0,-1.5,-4.5,-0.5,-2.0,1.5,0.0,2.5,-0.5,2.0,1.0,3.5,1.5,2.5,-1.5,1.5,-0.5],
    [7.8,9.0,8.0,5.1,7.5,8.1,8.3,8.1,7.0,5.1,4.1,5.3,1.5,4.5,3.0,6.5,5.0,7.0,4.0,6.5,4.5,6.5,3.0,5.0,2.5,5.0,3.5,6.0,4.0,5.5,3.0],
    [7.9,9.2,8.1,5.4,7.6,8.2,8.4,8.2,7.0,5.2,4.2,5.4,0.5,3.0,0.5,3.5,1.5,5.5,3.5,7.0,4.0,5.0,1.5,3.5,0.5,2.0,-1.5,1.0,-1.0,2.0,0.0],
    [7.6,8.9,7.9,4.6,7.3,7.9,8.0,7.8,6.8,4.8,3.9,5.0,-0.5,2.5,-1.0,2.0,-0.5,3.5,0.5,5.0,2.5,5.5,3.0,6.5,4.5,7.5,5.0,6.0,3.5,6.5,4.0],
    [8.0,9.3,8.2,5.9,7.7,8.3,8.5,8.3,7.1,5.3,4.3,5.6,2.5,5.5,3.5,8.0,6.5,9.0,7.0,9.5,7.5,10.0,7.0,8.0,6.5,8.5,6.0,8.0,5.0,7.0,4.5],
]

# ---------------- snowfall per 6 h (cm) ----------------
SNOW_CONTROL = [0,0,0,0,0,0,0,0,0,0,0,0,0,0,0,0,0,0,0,0,0,0,0.1,0,0,0,0,0,0,0,0]
SNOW_OPER = [0,0,0,0,0,0,0,0,0,0,0,0,0,0,0,0,0,0,0,0,0]
SNOW_MEAN = [0,0,0,0,0,0,0,0,0,0,0,0,0,0.02,0.05,0.05,0.1,0.08,0.05,0.05,
             0.05,0.08,0.1,0.05,0.05,0.12,0.1,0.12,0.08,0.1,0.1]
SNOW_MEMBERS = [
    [0,0,0,0,0,0,0,0,0,0,0,0,0,1.1,0.2,0,0,0,0,0,0.4,0,0,0.3,0,0,0,0,0,0,0],
    [0,0,0,0,0,0,0,0,0,0,0,0,0,0.1,1.9,0.3,0,0,0.7,0,0,0,0,0,0.5,0,0,0,0.3,0,0],
    [0,0,0,0,0,0,0,0,0,0,0,0,0,0,0.3,1.6,0.5,0,0,0,0,0.2,0,0,0,1.0,0,0,0,0,0],
    [0,0,0,0,0,0,0,0,0,0,0,0,0,0,0,0.2,3.2,0.3,0,0,0,0,0.5,0,0,0,0,0.6,0,0,0],
    [0,0,0,0,0,0,0,0,0,0,0,0,0,0,0,0,0,1.9,0.5,1.4,0,0,0,0,0,0,0.3,0,0,0.6,0],
    [0,0,0,0,0,0,0,0,0,0,0,0,0,0,0,0,0,0,1.9,0.6,0,0,0,0.4,0,0,0,0,0,0,0.4],
    [0,0,0,0,0,0,0,0,0,0,0,0,0,0,0,0,0,0,0,2.1,0.3,0,0,0,0,1.8,0,0,0,0,0],
    [0,0,0,0,0,0,0,0,0,0,0,0,0,0,0,0,0,0,0,0,2.4,0.2,0,0,0,0,0,1.6,0,0,0],
    [0,0,0,0,0,0,0,0,0,0,0,0,0,0,0,0,0,0,0,0,0,3.3,0.5,0,0,0,0,0,0,0.5,0],
    [0,0,0,0,0,0,0,0,0,0,0,0,0,0,0,0,0,0,0,0,0,0,3.2,0.5,0,0,1.2,0,0,0,0],
    [0,0,0,0,0,0,0,0,0,0,0,0,0,0,0,0,0,0,0,0,0,0,0,0,2.4,0.5,3.8,0.4,0,0,0],
    [0,0,0,0,0,0,0,0,0,0,0,0,0,0,0,0,0,0,0,0,0,0,0,0,0,4.0,0.5,1.5,0,0,0],
    [0,0,0,0,0,0,0,0,0,0,0,0,0,0,0,0,0,0,0,0,0,0,0,0,0,0,0.2,3.5,0.4,0,0],
    [0,0,0,0,0,0,0,0,0,0,0,0,0,0,0,0,0,0,0,0,0,0,0,0,0,0,0,0,2.2,0.3,1.3],
    [0,0,0,0,0,0,0,0,0,0,0,0,0,0,0,0,0,0,0,0,0,0,0,0,0,0,0,0,0.3,4.1,0.5],
]

# ---------------- threshold lines ----------------
PRECIP_THRESHOLDS = [15]
WIND_THRESHOLDS = [10.8, 13.9, 17.2]
GUST_THRESHOLDS = [20, 25]
GUST_WARNING = [28.5]
T2M_FREEZING = [0]

PANELS = [
    dict(members=PRECIP_MEMBERS, control=PRECIP_CONTROL, oper=PRECIP_OPER, mean=PRECIP_MEAN,
         name="Neerslag/6 uur", unit="mm", yr=[0, 20], dtick=5, minor=2.5,
         dotted=PRECIP_THRESHOLDS, dashed=[], solid=[]),
    dict(members=ACCUM_MEMBERS, control=ACCUM_CONTROL, oper=ACCUM_OPER, mean=ACCUM_MEAN,
         name="Accum Neerslag", unit="mm", yr=[0, 80], dtick=10, minor=5,
         dotted=[], dashed=[], solid=[]),
    dict(members=WIND_MEMBERS, control=WIND_CONTROL, oper=WIND_OPER, mean=WIND_MEAN,
         name="10m wind", unit="m/s", yr=[0, 20], dtick=5, minor=2.5,
         dotted=WIND_THRESHOLDS, dashed=[], solid=[]),
    dict(members=GUST_MEMBERS, control=GUST_CONTROL, oper=GUST_OPER, mean=GUST_MEAN,
         name="Windstoten", unit="m/s", yr=[0, 35], dtick=5, minor=2.5,
         dotted=GUST_THRESHOLDS, dashed=GUST_WARNING, solid=[]),
    dict(members=T2M_MEMBERS, control=T2M_CONTROL, oper=T2M_OPER, mean=T2M_MEAN,
         name="T2m", unit="Celsius", yr=[-10, 15], dtick=5, minor=2.5,
         dotted=[], dashed=[], solid=T2M_FREEZING),
    dict(members=SNOW_MEMBERS, control=SNOW_CONTROL, oper=SNOW_OPER, mean=SNOW_MEAN,
         name="Sneeuwval/6 uur", unit="cm", yr=[0, 5], dtick=1, minor=0.5,
         dotted=[], dashed=[], solid=[]),
]

for pan in PANELS:
    for m in pan["members"]:
        assert len(m) == len(HOURS)
    assert len(pan["control"]) == len(HOURS)
    assert len(pan["mean"]) == len(HOURS)
    assert len(pan["oper"]) == len(OPER_HOURS)

# ---------------- styling / geometry ----------------
W, H = 778, 554
FONT = "Liberation Sans, Arial, Helvetica, sans-serif"
GREEN = "rgba(108,172,52,0.68)"
BLUE = "#2323ff"
RED = "#ff1a1a"
MEAN_COL = "#7a1d0e"
FRAME = "#5a5aff"
NB = "\u00a0"
TITLE = ("<b>Maandag</b>" + NB * 4 + "<b>9 Januari</b>" + NB * 3 + "<b>2012</b>" + NB * 3 +
         "(starttijd" + NB * 2 + "<b>Ma</b> <span style='font-size:9px'>00</span> <b>UTC</b>)")

ROW_TOP = [0, 185, 369]
COL_LEFT = [0, 389]
PL, PR, PT, PB = 31.5, 357.5, 17.0, 155.7


def fx(px):
    return px / W


def fy(py):
    return 1 - py / H


fig = go.Figure()
layout = dict(width=W, height=H, margin=dict(l=0, r=0, t=0, b=0),
              paper_bgcolor="white", plot_bgcolor="white", showlegend=False,
              font=dict(family=FONT, color="black"))
annotations = []
shapes = []

for i, pan in enumerate(PANELS):
    p = i + 1
    r, c = i // 2, i % 2
    L, T = COL_LEFT[c], ROW_TOP[r]
    xr = "x" if p == 1 else f"x{p}"
    yr_ = "y" if p == 1 else f"y{p}"
    xkey = "xaxis" if p == 1 else f"xaxis{p}"
    ykey = "yaxis" if p == 1 else f"yaxis{p}"

    for m in pan["members"]:
        fig.add_trace(go.Scatter(x=HOURS, y=m, mode="lines", line=dict(color=GREEN, width=1),
                                 xaxis=xr, yaxis=yr_, hoverinfo="skip"))
    fig.add_trace(go.Scatter(x=HOURS, y=pan["control"], mode="lines",
                             line=dict(color=BLUE, width=1.5, dash="dash"),
                             xaxis=xr, yaxis=yr_, hoverinfo="skip"))
    fig.add_trace(go.Scatter(x=OPER_HOURS, y=pan["oper"], mode="lines",
                             line=dict(color=RED, width=1.6),
                             xaxis=xr, yaxis=yr_, hoverinfo="skip"))
    fig.add_trace(go.Scatter(x=HOURS, y=pan["mean"], mode="lines",
                             line=dict(color=MEAN_COL, width=3, dash="dot"),
                             xaxis=xr, yaxis=yr_, hoverinfo="skip"))
    # carrier for the right-hand axis
    fig.add_trace(go.Scatter(x=[None], y=[None], mode="lines", xaxis=xr, yaxis=f"y{p + 6}",
                             hoverinfo="skip"))

    layout[xkey] = dict(domain=[fx(L + PL), fx(L + PR)], anchor=yr_, range=[0, 360],
                        tickmode="array", tickvals=MIDNIGHT_HOURS, ticktext=MIDNIGHT_LABELS,
                        ticks="outside", ticklen=2, tickcolor="black",
                        tickfont=dict(size=6, family=FONT), showline=True, linecolor="black",
                        linewidth=1, showgrid=False, zeroline=False, fixedrange=True)
    layout[ykey] = dict(domain=[fy(T + PB), fy(T + PT)], anchor=xr, range=pan["yr"],
                        tick0=0, dtick=pan["dtick"], ticks="outside", ticklen=7, tickcolor="black",
                        showline=True, linecolor="black", linewidth=1, showgrid=False,
                        zeroline=False, tickfont=dict(size=9, family=FONT), fixedrange=True,
                        minor=dict(ticks="outside", ticklen=3, dtick=pan["minor"], tick0=0,
                                   tickcolor="black", showgrid=False))
    layout[f"yaxis{p + 6}"] = dict(overlaying=yr_, side="right", anchor=xr, range=pan["yr"],
                                   tick0=0, dtick=pan["dtick"], ticks="outside", ticklen=4,
                                   tickcolor="#444", showline=True, linecolor="#8a8a8a",
                                   linewidth=2, showgrid=False, zeroline=False,
                                   tickfont=dict(size=9, family=FONT), fixedrange=True,
                                   minor=dict(ticks="outside", ticklen=2, dtick=pan["minor"],
                                              tick0=0, tickcolor="#444", showgrid=False))

    # threshold lines
    for v in pan["dotted"]:
        shapes.append(dict(type="line", xref=f"{xr} domain", yref=yr_, x0=0, x1=1, y0=v, y1=v,
                           line=dict(color="black", width=1, dash="dot"), layer="above"))
    for v in pan["dashed"]:
        shapes.append(dict(type="line", xref=f"{xr} domain", yref=yr_, x0=0, x1=1, y0=v, y1=v,
                           line=dict(color="#ff00ff", width=1, dash="dash"), layer="above"))
    for v in pan["solid"]:
        shapes.append(dict(type="line", xref=f"{xr} domain", yref=yr_, x0=0, x1=1, y0=v, y1=v,
                           line=dict(color="black", width=3), layer="above"))

    # day names under the axis
    for h, d in zip(NOON_HOURS, DAY_NAMES):
        annotations.append(dict(x=h, xref=xr, y=0, yref=f"{yr_} domain", text=d,
                                showarrow=False, yanchor="top", xanchor="center", yshift=-2,
                                font=dict(size=8, family=FONT)))

    # panel title
    annotations.append(dict(x=fx(L + 194.5), y=fy(T + 7.5), xref="paper", yref="paper",
                            text=TITLE, showarrow=False, xanchor="center", yanchor="middle",
                            font=dict(size=11, family=FONT)))
    # station / parameter text
    annotations.append(dict(x=fx(L + 320), y=fy(T + PT + 11.4), xref="paper", yref="paper",
                            text="De Bilt<br>" + pan["name"], showarrow=False, align="center",
                            xanchor="center", yanchor="middle",
                            font=dict(size=10, family=FONT)))
    # y unit
    annotations.append(dict(x=fx(L + 10), y=fy(T + (PT + PB) / 2), xref="paper", yref="paper",
                            text="<b>" + pan["unit"] + "</b>", showarrow=False, textangle=-90,
                            xanchor="center", yanchor="middle", font=dict(size=12, family=FONT)))
    # x title
    annotations.append(dict(x=fx(L + 194.5), y=fy(T + 177.5), xref="paper", yref="paper",
                            text="<b>Dag</b>", showarrow=False, xanchor="center", yanchor="middle",
                            font=dict(size=11, family=FONT)))
    # source
    annotations.append(dict(x=fx(L + 373), y=fy(T + 176.5), xref="paper", yref="paper",
                            text="<b>Bron:" + NB + NB + "ECMWF/KNMI</b>", showarrow=False,
                            xanchor="right", yanchor="middle",
                            font=dict(size=7.5, family=FONT, color="#1a1aff")))
    # legend
    leg_lines = [(T + 22.9, dict(color="#5252ff", width=2, dash="dash")),
                 (T + 30.7, dict(color=RED, width=1.5)),
                 (T + 38.5, dict(color=MEAN_COL, width=2.5, dash="dot"))]
    for yy, st in leg_lines:
        shapes.append(dict(type="line", xref="paper", yref="paper", x0=fx(L + 35), x1=fx(L + 56),
                           y0=fy(yy), y1=fy(yy), line=st))
    annotations.append(dict(x=fx(L + 79), y=fy(T + 30.7), xref="paper", yref="paper",
                            text="Control<br>Oper<br>Ens mn", showarrow=False, align="center",
                            xanchor="center", yanchor="middle",
                            font=dict(size=6, family=FONT, color="#222")))

# panel frame lines
for xx in [0.5, 389.5, 777.5]:
    shapes.append(dict(type="line", xref="paper", yref="paper", x0=fx(xx), x1=fx(xx),
                       y0=fy(551), y1=fy(0), line=dict(color=FRAME, width=1)))
for yy in [184.5, 368.5, 550.5]:
    shapes.append(dict(type="line", xref="paper", yref="paper", x0=fx(0), x1=fx(778),
                       y0=fy(yy), y1=fy(yy), line=dict(color=FRAME, width=1)))

layout["annotations"] = annotations
layout["shapes"] = shapes
fig.update_layout(**layout)
fig.write_html("out.html", config={"displayModeBar": False},
               post_script="document.body.style.margin='0px';")
